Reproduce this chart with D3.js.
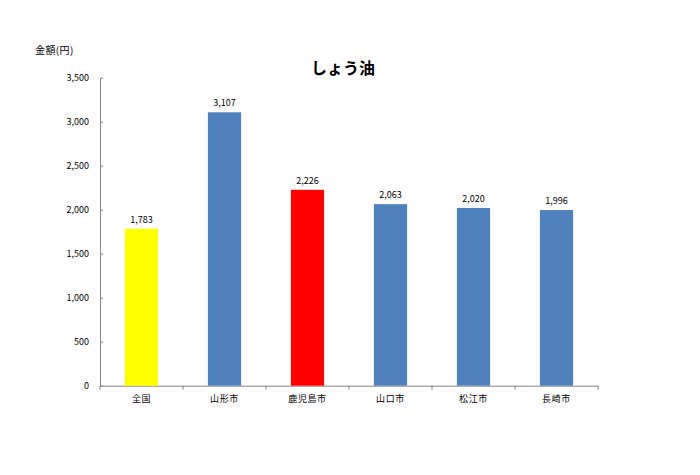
<!DOCTYPE html>
<html><head><meta charset="utf-8">
<script src="https://cdn.jsdelivr.net/npm/d3@7"></script>
<style>body{margin:0;background:#fff}svg{display:block}</style>
</head><body>
<script>
const categories = ["全国","山形市","鹿児島市","山口市","松江市","長崎市"];
const values = [1783,3107,2226,2063,2020,1996];
const colors = ["#FFFF00","#4F81BD","#FF0000","#4F81BD","#4F81BD","#4F81BD"];
const yTicks = [0,500,1000,1500,2000,2500,3000,3500];
const title = "しょう油";
const yLabel = "金額(円)";

const W=700,H=475;
const font = "'Noto Sans CJK JP','Noto Sans',sans-serif";
const svg = d3.select("body").append("svg").attr("width",W).attr("height",H);
const mLeft=100,mRight=598,mTop=77.7,mBottom=385.7;
const x = d3.scaleBand().domain(categories).range([mLeft,mRight]).paddingInner(0.6).paddingOuter(0.3);
const y = d3.scaleLinear().domain([0,3500]).range([mBottom,mTop]);

svg.append("text").attr("x",343).attr("y",74).attr("text-anchor","middle")
  .attr("font-family",font).attr("font-weight","bold").attr("font-size",16).text(title);
svg.append("text").attr("x",35).attr("y",54).attr("font-family",font).attr("font-size",10)
  .attr("letter-spacing",0.4).text(yLabel);

const ya = svg.append("g").attr("transform",`translate(${mLeft},0)`)
  .call(d3.axisLeft(y).tickValues(yTicks).tickFormat(d3.format(",")).tickSizeInner(-3).tickSizeOuter(0).tickPadding(11));
ya.select(".domain").attr("stroke","#868686");
ya.selectAll(".tick line").attr("stroke","#868686");
ya.selectAll("text").attr("font-family",font).attr("font-size",9).attr("fill","#000");

const xa = svg.append("g").attr("transform",`translate(0,${mBottom})`)
  .call(d3.axisBottom(x).tickSize(0).tickPadding(10));
xa.select(".domain").attr("stroke","#868686");
xa.selectAll("text").attr("font-family",font).attr("font-size",9).attr("letter-spacing",0.6).attr("fill","#000");
const step = x.step();
const bounds = d3.range(categories.length+1).map(i=>mLeft+i*step);
svg.append("g").selectAll("line").data(bounds).join("line")
  .attr("x1",d=>d).attr("x2",d=>d).attr("y1",mBottom).attr("y2",mBottom+4).attr("stroke","#868686");

svg.append("g").selectAll("rect").data(values).join("rect")
  .attr("x",(d,i)=>x(categories[i])).attr("width",x.bandwidth())
  .attr("y",d=>y(d)).attr("height",d=>mBottom-y(d)).attr("fill",(d,i)=>colors[i]);

svg.append("g").selectAll("text").data(values).join("text")
  .attr("x",(d,i)=>x(categories[i])+x.bandwidth()/2).attr("y",d=>y(d)-6)
  .attr("text-anchor","middle").attr("font-family",font).attr("font-size",9)
  .text(d=>d3.format(",")(d));
</script>
</body></html>
